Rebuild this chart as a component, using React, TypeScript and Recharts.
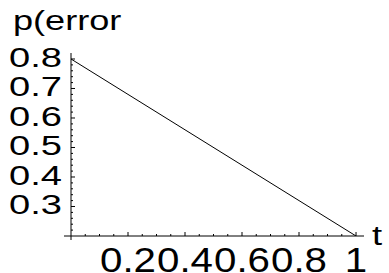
import React from "react";
import { LineChart, Line, XAxis, YAxis, ReferenceLine } from "recharts";

// values
const T_VALUES = [0, 1];
const P_VALUES = [0.8, 0.2];

const X_MAJOR = [0.2, 0.4, 0.6, 0.8, 1];
const X_LABELS = ["0.2", "0.4", "0.6", "0.8", "1"];
const X_MINOR = [0.05, 0.1, 0.15, 0.25, 0.3, 0.35, 0.45, 0.5, 0.55, 0.65, 0.7, 0.75, 0.85, 0.9, 0.95];

const Y_MAJOR = [0.3, 0.4, 0.5, 0.6, 0.7, 0.8];
const Y_LABELS = ["0.3", "0.4", "0.5", "0.6", "0.7", "0.8"];
const Y_MINOR = [
  0.22, 0.24, 0.26, 0.28, 0.32, 0.34, 0.36, 0.38, 0.42, 0.44, 0.46, 0.48,
  0.52, 0.54, 0.56, 0.58, 0.62, 0.64, 0.66, 0.68, 0.72, 0.74, 0.76, 0.78,
];

const data = T_VALUES.map((t, i) => ({ t, p: P_VALUES[i] }));

const FONT = '"Liberation Sans", Arial, Helvetica, sans-serif';
const near = (a: number, b: number) => Math.abs(a - b) < 1e-6;

function XTick(props: any) {
  const { x, y, payload } = props;
  const idx = X_MAJOR.findIndex((m) => near(m, payload.value));
  const len = idx >= 0 ? 4 : 2;
  return (
    <g>
      <line x1={x} x2={x} y1={y} y2={y - len} stroke="#000" />
      {idx >= 0 && (
        <text
          transform={`translate(${x},${y + 36}) scale(1.15,1)`}
          textAnchor="middle"
          fontSize={35}
          fontFamily={FONT}
          fill="#000"
        >
          {X_LABELS[idx]}
        </text>
      )}
    </g>
  );
}

function YTick(props: any) {
  const { x, y, payload } = props;
  const idx = Y_MAJOR.findIndex((m) => near(m, payload.value));
  const len = idx >= 0 ? 4 : 2;
  return (
    <g>
      <line x1={x} x2={x + len} y1={y} y2={y} stroke="#000" />
      {idx >= 0 && (
        <text
          transform={`translate(${x - 9},${y + 8}) scale(1.36,1)`}
          textAnchor="end"
          fontSize={28}
          fontFamily={FONT}
          fill="#000"
        >
          {Y_LABELS[idx]}
        </text>
      )}
    </g>
  );
}

export default function App() {
  return (
    <div style={{ position: "absolute", left: 0, top: 0, width: 389, height: 273, background: "#fff" }}>
      <LineChart width={389} height={273} data={data} margin={{ top: 53, right: 25, bottom: 36, left: 70 }}>
        <XAxis
          type="number"
          dataKey="t"
          domain={[0, 1.028]}
          allowDataOverflow
          ticks={[...X_MINOR, ...X_MAJOR]}
          interval={0}
          height={1}
          tickSize={0}
          tickMargin={0}
          tickLine={false}
          axisLine={{ stroke: "#000" }}
          tick={<XTick />}
        />
        <YAxis
          type="number"
          domain={[0.2, 0.8203]}
          allowDataOverflow
          ticks={[...Y_MINOR, ...Y_MAJOR]}
          interval={0}
          width={1}
          tickSize={0}
          tickMargin={0}
          tickLine={false}
          axisLine={{ stroke: "#000" }}
          tick={<YTick />}
        />
        <ReferenceLine
          segment={[{ x: -0.0246, y: 0.2 }, { x: 0, y: 0.2 }]}
          stroke="#000"
          ifOverflow="visible"
        />
        <ReferenceLine
          segment={[{ x: 0, y: 0.1864 }, { x: 0, y: 0.2 }]}
          stroke="#000"
          ifOverflow="visible"
        />
        <Line
          type="linear"
          dataKey="p"
          stroke="#000"
          strokeWidth={1}
          dot={false}
          isAnimationActive={false}
        />
        <text transform="translate(13,30) scale(1.29,1)" fontSize={28} fontFamily={FONT} fill="#000">
          p(error
        </text>
        <text transform="translate(372,245) scale(1.3,1)" fontSize={28} fontFamily={FONT} fill="#000">
          t
        </text>
      </LineChart>
    </div>
  );
}
